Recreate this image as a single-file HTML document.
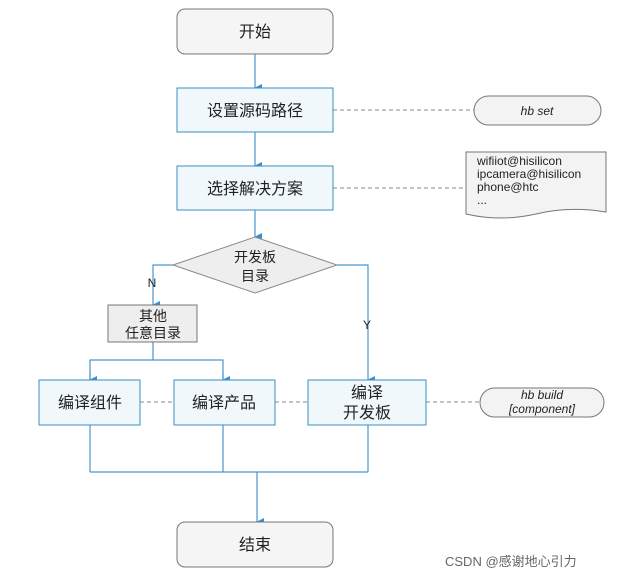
<!DOCTYPE html>
<html><head><meta charset="utf-8"><style>
body{margin:0;background:#fff;}
svg text{font-family:"Liberation Sans","Noto Sans CJK SC",sans-serif;}
</style></head><body>
<svg width="637" height="580" viewBox="0 0 637 580" xmlns="http://www.w3.org/2000/svg">
<defs><marker id="a" markerWidth="8" markerHeight="8" refX="4" refY="7" orient="auto" markerUnits="userSpaceOnUse"><path d="M0,0 L8,0 L4,8 z" fill="#3a8fd0"/></marker></defs>
<g stroke="#4a97cf" stroke-width="1.2" fill="none">
<line x1="255" y1="54" x2="255" y2="88" marker-end="url(#a)"/>
<line x1="255" y1="132" x2="255" y2="166" marker-end="url(#a)"/>
<line x1="255" y1="210" x2="255" y2="237" marker-end="url(#a)"/>
<polyline points="173,265 153,265 153,305" marker-end="url(#a)"/>
<polyline points="337,265 368,265 368,380" marker-end="url(#a)"/>
<line x1="153" y1="342" x2="153" y2="360"/>
<polyline points="90,380 90,360 223,360 223,380"/>
<line x1="90" y1="372" x2="90" y2="380" marker-end="url(#a)"/>
<line x1="223" y1="372" x2="223" y2="380" marker-end="url(#a)"/>
<line x1="90" y1="425" x2="90" y2="472"/>
<line x1="223" y1="425" x2="223" y2="472"/>
<line x1="368" y1="425" x2="368" y2="472"/>
<line x1="90" y1="472" x2="368" y2="472"/>
<line x1="257" y1="472" x2="257" y2="522" marker-end="url(#a)"/>
</g>
<g stroke="#888" stroke-width="1" stroke-dasharray="4,3" fill="none">
<line x1="333" y1="110" x2="474" y2="110"/>
<line x1="333" y1="188" x2="466" y2="188"/>
<line x1="140" y1="402" x2="174" y2="402"/>
<line x1="275" y1="402" x2="308" y2="402"/>
<line x1="426" y1="402" x2="480" y2="402"/>
</g>
<rect x="177" y="9" width="156" height="45" rx="8" fill="#f5f5f5" stroke="#777"/>
<rect x="177" y="522" width="156" height="45" rx="8" fill="#f5f5f5" stroke="#777"/>
<g fill="#f0f8fc" stroke="#3b8ec2">
<rect x="177" y="88" width="156" height="44"/>
<rect x="177" y="166" width="156" height="44"/>
<rect x="39" y="380" width="101" height="45"/>
<rect x="174" y="380" width="101" height="45"/>
<rect x="308" y="380" width="118" height="45"/>
</g>
<polygon points="173,265 255,237 337,265 255,293" fill="#eee" stroke="#888"/>
<rect x="108" y="305" width="89" height="37" fill="#eee" stroke="#777"/>
<rect x="474" y="96" width="127" height="29" rx="14.5" fill="#f3f3f3" stroke="#777"/>
<rect x="480" y="388" width="124" height="29" rx="14.5" fill="#f3f3f3" stroke="#777"/>
<path d="M466,152 L606,152 L606,212 Q570,206 536,214 Q500,222 466,214 Z" fill="#f3f3f3" stroke="#777"/>
<g font-size="16" fill="#222" text-anchor="middle">
<text x="255" y="37">开始</text>
<text x="255" y="116">设置源码路径</text>
<text x="255" y="194">选择解决方案</text>
<text x="255" y="550">结束</text>
<text x="90" y="408">编译组件</text>
<text x="224" y="408">编译产品</text>
<text x="367" y="398">编译</text>
<text x="367" y="418">开发板</text>
</g>
<g font-size="14" fill="#222" text-anchor="middle">
<text x="255" y="262">开发板</text>
<text x="255" y="281">目录</text>
<text x="153" y="321">其他</text>
<text x="153" y="338">任意目录</text>
</g>
<g font-size="12" fill="#222" text-anchor="middle">
<text x="152" y="287">N</text>
<text x="367" y="329">Y</text>
<text x="537" y="115" font-style="italic">hb set</text>
<text x="542" y="399" font-style="italic">hb build</text>
<text x="542" y="413" font-style="italic">[component]</text>
</g>
<g font-size="12" fill="#222">
<text x="477" y="165">wifiiot@hisilicon</text>
<text x="477" y="178">ipcamera@hisilicon</text>
<text x="477" y="191">phone@htc</text>
<text x="477" y="204">...</text>
</g>
<text x="445" y="566" font-size="13" fill="#666">CSDN @感谢地心引力</text>
</svg>
</body></html>
